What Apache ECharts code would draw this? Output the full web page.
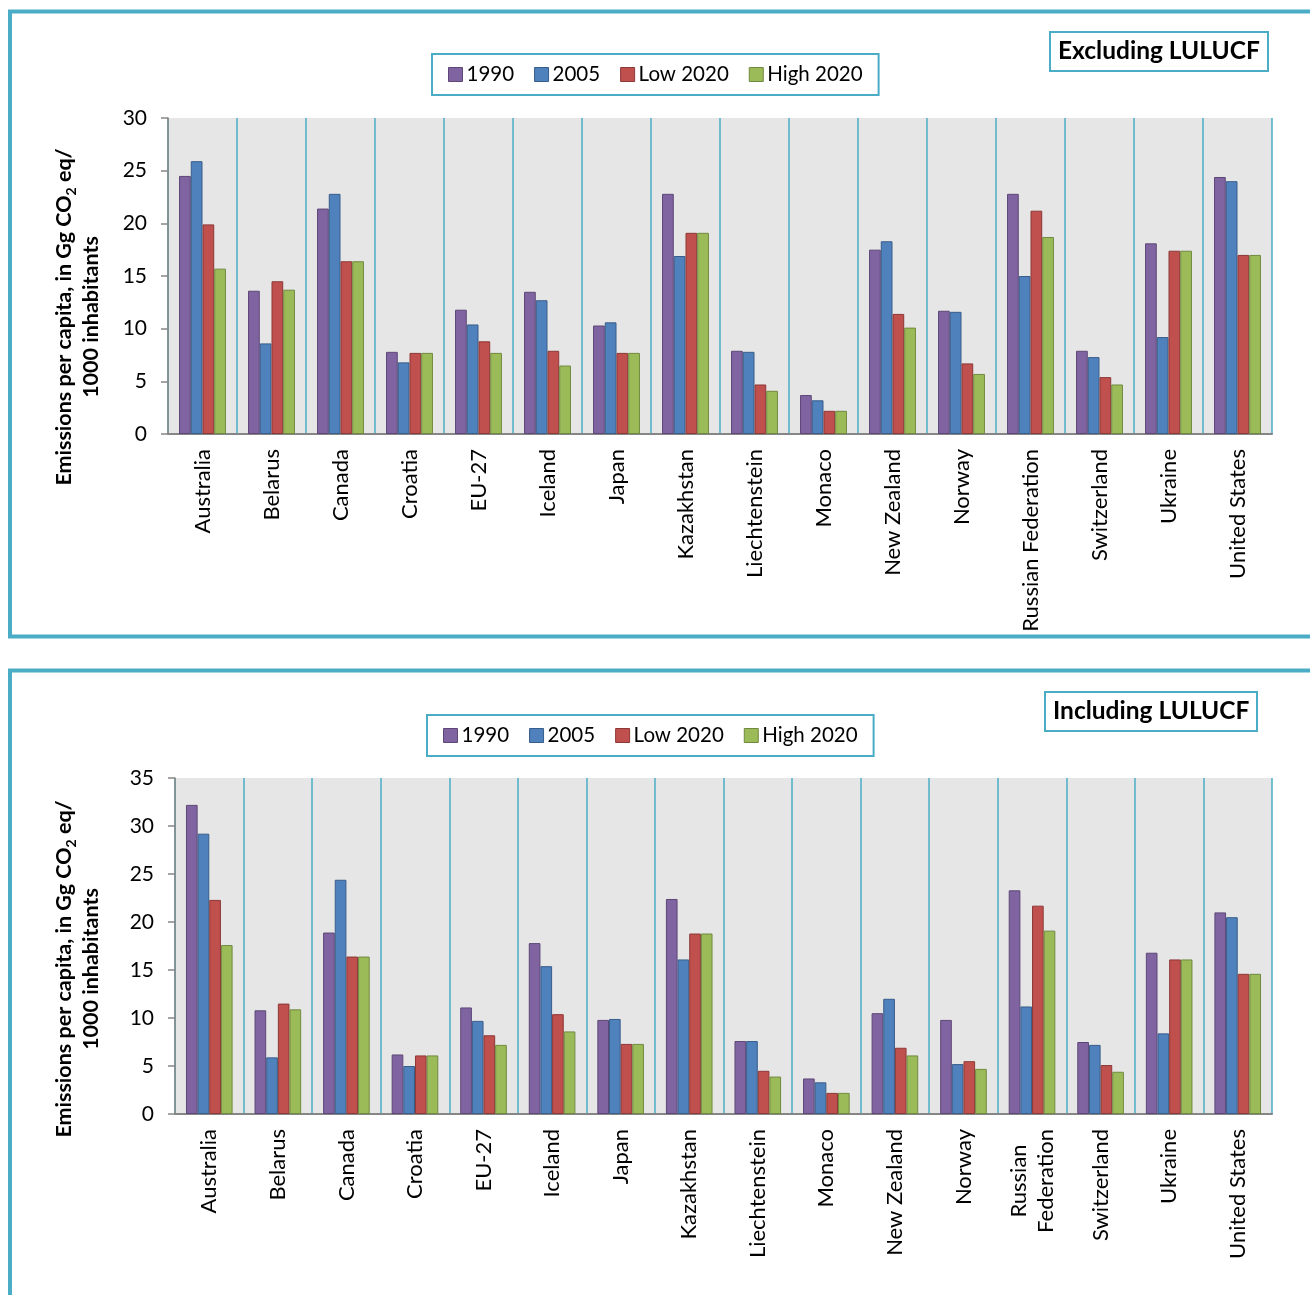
<!DOCTYPE html>
<html>
<head>
<meta charset="utf-8">
<script src="https://cdn.jsdelivr.net/npm/echarts@6/dist/echarts.min.js"></script>
<style>
  html, body { margin: 0; padding: 0; background: #fff; overflow: hidden; }
  #chart { width: 1310px; height: 1295px; }
</style>
</head>
<body>
<div id="chart"></div>
<script>
(function () {
  'use strict';

  const countries = ['Australia', 'Belarus', 'Canada', 'Croatia', 'EU-27', 'Iceland', 'Japan', 'Kazakhstan',
    'Liechtenstein', 'Monaco', 'New Zealand', 'Norway', 'Russian Federation', 'Switzerland', 'Ukraine', 'United States'];
  const seriesNames = ['1990', '2005', 'Low 2020', 'High 2020'];

  // Excluding LULUCF
  const exc1990 = [24.5, 13.6, 21.4, 7.8, 11.8, 13.5, 10.3, 22.8, 7.9, 3.7, 17.5, 11.7, 22.8, 7.9, 18.1, 24.4];
  const exc2005 = [25.9, 8.6, 22.8, 6.8, 10.4, 12.7, 10.6, 16.9, 7.8, 3.2, 18.3, 11.6, 15.0, 7.3, 9.2, 24.0];
  const excLow = [19.9, 14.5, 16.4, 7.7, 8.8, 7.9, 7.7, 19.1, 4.7, 2.2, 11.4, 6.7, 21.2, 5.4, 17.4, 17.0];
  const excHigh = [15.7, 13.7, 16.4, 7.7, 7.7, 6.5, 7.7, 19.1, 4.1, 2.2, 10.1, 5.7, 18.7, 4.7, 17.4, 17.0];

  // Including LULUCF
  const inc1990 = [32.2, 10.8, 18.9, 6.2, 11.1, 17.8, 9.8, 22.4, 7.6, 3.7, 10.5, 9.8, 23.3, 7.5, 16.8, 21.0];
  const inc2005 = [29.2, 5.9, 24.4, 5.0, 9.7, 15.4, 9.9, 16.1, 7.6, 3.3, 12.0, 5.2, 11.2, 7.2, 8.4, 20.5];
  const incLow = [22.3, 11.5, 16.4, 6.1, 8.2, 10.4, 7.3, 18.8, 4.5, 2.2, 6.9, 5.5, 21.7, 5.1, 16.1, 14.6];
  const incHigh = [17.6, 10.9, 16.4, 6.1, 7.2, 8.6, 7.3, 18.8, 3.9, 2.2, 6.1, 4.7, 19.1, 4.4, 16.1, 14.6];

  const topMax = 30;
  const bottomMax = 35;
  const yStep = 5;

  const fills = ['#8064A2', '#4F81BD', '#C0504D', '#9BBB59'];
  const borders = ['#5C4776', '#385D8A', '#8C3836', '#71893F'];
  const teal = '#4BACC6';
  const axisGray = '#868686';
  const font = 'Lato, "Open Sans", sans-serif';

  function xAxis(gridIndex, wrap) {
    return {
      type: 'category',
      gridIndex: gridIndex,
      data: countries,
      axisLine: { lineStyle: { color: axisGray, width: 2 } },
      axisTick: { interval: 0, length: 7, lineStyle: { color: axisGray, width: 1.5 } },
      splitLine: { show: true, interval: 0, lineStyle: { color: teal, width: 1.5 } },
      axisLabel: {
        interval: 0, rotate: 90, margin: 15, color: '#000', fontSize: 22, fontFamily: font,
        formatter: function (v) {
          if (wrap && v === 'Russian Federation') return '{c|Russian}\n{c|Federation}';
          return v;
        },
        rich: { c: { align: 'center', fontSize: 22, fontFamily: font, color: '#000', lineHeight: 27 } }
      }
    };
  }

  function yAxis(gridIndex, max) {
    return {
      type: 'value',
      gridIndex: gridIndex,
      min: 0, max: max, interval: yStep,
      axisLine: { show: true, lineStyle: { color: axisGray, width: 1.5 } },
      axisTick: { show: true, length: 7, lineStyle: { color: axisGray, width: 1.5 } },
      splitLine: { show: false },
      axisLabel: { color: '#000', fontSize: 21, fontFamily: font, margin: 21 }
    };
  }

  function bars(gridIndex, lists) {
    return lists.map(function (vals, i) {
      return {
        name: seriesNames[i], type: 'bar',
        xAxisIndex: gridIndex, yAxisIndex: gridIndex,
        data: vals, barGap: '0%', barCategoryGap: '32%',
        itemStyle: { color: fills[i], borderColor: borders[i], borderWidth: 1 },
        emphasis: { focus: 'series' }
      };
    });
  }

  function legend(left, top) {
    return {
      data: seriesNames.map(function (n, i) {
        return { name: n, itemStyle: { color: fills[i], borderColor: borders[i], borderWidth: 1 } };
      }),
      top: top, left: left, icon: 'rect',
      itemWidth: 14, itemHeight: 14, itemGap: 20,
      padding: [10, 16], borderColor: teal, borderWidth: 2, backgroundColor: '#fff',
      textStyle: { fontSize: 20.5, fontFamily: font, color: '#000', padding: [0, 0, 0, -1] }
    };
  }

  function title(text, left, top) {
    return {
      text: text, left: left, top: top,
      padding: [7, 8], borderColor: teal, borderWidth: 2,
      textStyle: { fontSize: 24.5, fontWeight: 'bold', fontFamily: font, color: '#000' }
    };
  }

  function yName(x, y) {
    return {
      type: 'text', x: x, y: y, rotation: Math.PI / 2,
      style: {
        text: '{b|Emissions per capita, in Gg CO}{s|2}{b| eq/}\n{b|1000 inhabitants}',
        align: 'center', verticalAlign: 'middle',
        rich: {
          b: { align: 'center', fontSize: 21.5, fontWeight: 'bold', fontFamily: font, fill: '#000', lineHeight: 27 },
          s: { align: 'center', fontSize: 14, fontWeight: 'bold', fontFamily: font, fill: '#000', verticalAlign: 'bottom', lineHeight: 16 }
        }
      }
    };
  }

  const chart = echarts.init(document.getElementById('chart'), null, { renderer: 'canvas' });
  chart.setOption({
    animation: false,
    backgroundColor: '#fff',
    title: [title('Excluding LULUCF', 1050, 32), title('Including LULUCF', 1045, 692)],
    legend: [legend(432, 54), legend(427, 715)],
    grid: [
      { left: 168, top: 118, width: 1104, height: 316, show: true, backgroundColor: '#E6E6E6', borderWidth: 0 },
      { left: 175, top: 778, width: 1097, height: 336, show: true, backgroundColor: '#E6E6E6', borderWidth: 0 }
    ],
    xAxis: [xAxis(0, false), xAxis(1, true)],
    yAxis: [yAxis(0, topMax), yAxis(1, bottomMax)],
    series: bars(0, [exc1990, exc2005, excLow, excHigh]).concat(bars(1, [inc1990, inc2005, incLow, incHigh])),
    graphic: [
      { type: 'rect', silent: true, shape: { x: 10, y: 11.5, width: 1400, height: 625 },
        style: { fill: 'none', stroke: teal, lineWidth: 4 } },
      { type: 'rect', silent: true, shape: { x: 10, y: 670.5, width: 1400, height: 700 },
        style: { fill: 'none', stroke: teal, lineWidth: 4 } },
      yName(78, 317),
      yName(78, 969)
    ]
  });
  window.addEventListener('resize', function () { chart.resize(); });
})();
</script>
</body>
</html>
